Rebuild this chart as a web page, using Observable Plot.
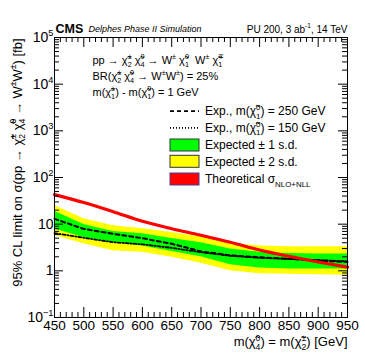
<!DOCTYPE html>
<html><head><meta charset="utf-8">
<script src="https://cdn.jsdelivr.net/npm/d3@7"></script>
<script src="https://cdn.jsdelivr.net/npm/@observablehq/plot@0.6"></script>
<style>body{margin:0;background:#fff;} svg{display:block;}</style>
</head><body><div id="chart"></div>
<script>
// ---- data ----
const masses      = [450, 500, 550, 600, 650, 700, 750, 800, 850, 900, 950];
const exp250      = [13, 7.9, 6.2, 5.0, 3.8, 2.6, 2.15, 1.95, 1.8, 1.66, 1.55];
const exp150      = [6.4, 5.1, 4.1, 3.7, 3.1, 2.5, 2.1, 1.9, 1.8, 1.7, 1.6];
const band1Up     = [19, 9.8, 7.0, 6.2, 4.9, 4.0, 2.95, 2.5, 2.35, 2.3, 2.3];
const band1Down   = [7.9, 5.2, 4.1, 3.4, 2.6, 2.0, 1.35, 1.15, 1.1, 1.1, 1.1];
const band2Up     = [25, 13, 9.3, 8.0, 6.6, 5.3, 3.9, 3.4, 3.3, 3.3, 3.3];
const band2Down   = [5.7, 3.8, 2.7, 2.5, 1.95, 1.45, 1.0, 0.87, 0.85, 0.82, 0.8];
const xsecTheory  = [43, 29, 18.5, 11.5, 8.0, 5.8, 4.1, 2.8, 2.05, 1.55, 1.2];
const xTicks      = [450, 500, 550, 600, 650, 700, 750, 800, 850, 900, 950];
const yTicks      = [0.1, 1, 10, 100, 1000, 10000, 100000];
const yTickLabels = ["10^{−1}", "1", "10", "10^{2}", "10^{3}", "10^{4}", "10^{5}"];

const rows = masses.map((m, i) => ({
  m, e250: exp250[i], e150: exp150[i], b1u: band1Up[i], b1d: band1Down[i],
  b2u: band2Up[i], b2d: band2Down[i], th: xsecTheory[i]
}));

const W = 365, H = 354, mL = 54, mR = 18, mT = 37, mB = 37;
const FW = W - mL - mR, FH = H - mT - mB;
const FONT = "Liberation Sans, Arial, Helvetica, sans-serif";
const DASH150 = "3,2,1,2";

const xMinor = d3.range(450, 951, 10).filter(v => v % 50 !== 0);
const yMinor = [];
for (let e = -1; e < 5; e++) for (let k = 2; k <= 9; k++) yMinor.push(k * Math.pow(10, e));

const tickMarks = (vals, len, axis) => axis === "x"
  ? [Plot.ruleX(vals, {x: d => d, insetTop: FH - len, stroke: "black"}),
     Plot.ruleX(vals, {x: d => d, insetBottom: FH - len, stroke: "black"})]
  : [Plot.ruleY(vals, {y: d => d, insetRight: FW - len, stroke: "black"}),
     Plot.ruleY(vals, {y: d => d, insetLeft: FW - len, stroke: "black"})];

const svg = Plot.plot({
  width: W, height: H,
  marginLeft: mL, marginRight: mR, marginTop: mT, marginBottom: mB,
  style: {fontFamily: FONT, background: "white", overflow: "visible"},
  x: {domain: [450, 950]},
  y: {type: "log", domain: [0.1, 1e5]},
  marks: [
    Plot.areaY(rows, {x: "m", y1: "b2d", y2: "b2u", fill: "#ffff00"}),
    Plot.areaY(rows, {x: "m", y1: "b1d", y2: "b1u", fill: "#00ff00"}),
    Plot.line(rows, {x: "m", y: "e250", stroke: "black", strokeWidth: 2, strokeDasharray: "4,3"}),
    Plot.line(rows, {x: "m", y: "e150", stroke: "black", strokeWidth: 1.8, strokeDasharray: DASH150}),
    Plot.line(rows, {x: "m", y: "th", stroke: "#ff0000", strokeWidth: 3.2, curve: "monotone-x"}),
    ...tickMarks(xTicks, 10, "x"),
    ...tickMarks(xMinor, 5, "x"),
    ...tickMarks(yTicks, 9, "y"),
    ...tickMarks(yMinor, 5, "y"),
    Plot.frame({stroke: "black"}),
    Plot.axisX({ticks: xTicks, tickSize: 0, tickPadding: 3, fontSize: 13.5, tickFormat: d => String(d), label: null}),
    Plot.axisY({ticks: yTicks, tickSize: 0, tickPadding: 1, fontSize: 14,
                tickFormat: d => yTickLabels[yTicks.indexOf(d)], label: null}),
    // header
    Plot.text(["CMS"], {frameAnchor: "top-left", dx: 1, dy: -9, fontSize: 12.5, fontWeight: "bold", textAnchor: "start", lineAnchor: "middle"}),
    Plot.text(["Delphes Phase II Simulation"], {frameAnchor: "top-left", dx: 34, dy: -8, fontSize: 9, fontStyle: "italic", textAnchor: "start", lineAnchor: "middle"}),
    Plot.text(["PU 200, 3 ab^{-1}, 14 TeV"], {frameAnchor: "top-right", dx: 0, dy: -8.2, fontSize: 10, textAnchor: "end", lineAnchor: "middle"}),
    // process annotation
    Plot.text(["pp → χ̃^{±}_{2} χ̃^{0}_{4} → W^{±} χ̃^{0}_{1}  W^{±} χ̃^{∓}_{1}"], {frameAnchor: "top-left", dx: 38, dy: 22.8, fontSize: 11, textAnchor: "start", lineAnchor: "middle"}),
    Plot.text(["BR(χ̃^{±}_{2} χ̃^{0}_{4} → W^{±}W^{±}) = 25%"], {frameAnchor: "top-left", dx: 38, dy: 38.5, fontSize: 11, textAnchor: "start", lineAnchor: "middle"}),
    Plot.text(["m(χ̃^{±}_{1}) - m(χ̃^{0}_{1}) = 1 GeV"], {frameAnchor: "top-left", dx: 38, dy: 54.5, fontSize: 11, textAnchor: "start", lineAnchor: "middle"}),
    // axis titles
    Plot.text(["95% CL limit on σ(pp → χ̃^{±}_{2} χ̃^{0}_{4} → W^{±}W^{±}) [fb]"], {frameAnchor: "top-left", dx: -37, dy: 1, rotate: -90, fontSize: 13, textAnchor: "end", lineAnchor: "middle"}),
    Plot.text(["m(χ̃^{0}_{4}) = m(χ̃^{±}_{2}) [GeV]"], {frameAnchor: "bottom-right", dx: 0, dy: 24.5, fontSize: 13, textAnchor: "end", lineAnchor: "middle"})
  ]
});
svg.querySelectorAll('g[aria-label$="tick label"], g[aria-label="text"]').forEach(g => g.setAttribute("fill", "black"));
document.getElementById("chart").appendChild(svg);

// ---- legend (inside the frame, top right) ----
const sel = d3.select(svg);
const leg = sel.append("g").attr("font-family", FONT).attr("font-size", 12)
  .attr("fill", "black").attr("text-anchor", "start");
const items = [
  {label: "Exp., m(χ̃^{0}_{1}) = 250 GeV", kind: "line", dash: "4,3", yc: 111.2},
  {label: "Exp., m(χ̃^{0}_{1}) = 150 GeV", kind: "line", dash: "1,2", yc: 127.8},
  {label: "Expected ± 1 s.d.", kind: "box", fill: "#00ff00", stroke: "#333", yc: 145},
  {label: "Expected ± 2 s.d.", kind: "box", fill: "#ffff00", stroke: "#333", yc: 161.3},
  {label: "Theoretical σ_{NLO+NLL}", kind: "box", fill: "#ff0000", stroke: "#4b3a9a", yc: 179}
];
items.forEach(it => {
  if (it.kind === "line") {
    leg.append("line").attr("x1", 170).attr("x2", 199).attr("y1", it.yc).attr("y2", it.yc)
      .attr("stroke", "black").attr("stroke-width", 1.8).attr("stroke-dasharray", it.dash);
  } else {
    leg.append("rect").attr("x", 170).attr("y", it.yc - 6).attr("width", 29).attr("height", 12)
      .attr("fill", it.fill).attr("stroke", it.stroke).attr("stroke-width", 1);
  }
  leg.append("text").attr("x", 205).attr("y", it.yc).attr("dy", "0.35em").text(it.label);
});

// ---- rich text: ^{sup} _{sub} (stacked when adjacent) ----
function richify(el) {
  const s = el.textContent;
  if (!/[\^_]\{/.test(s)) return;
  const segs = []; let buf = "", i = 0;
  while (i < s.length) {
    if ((s[i] === "^" || s[i] === "_") && s[i + 1] === "{") {
      if (buf) { segs.push({t: "n", s: buf}); buf = ""; }
      const j = s.indexOf("}", i);
      segs.push({t: s[i] === "^" ? "sup" : "sub", s: s.slice(i + 2, j)});
      i = j + 1;
    } else { buf += s[i]; i++; }
  }
  if (buf) segs.push({t: "n", s: buf});
  const fs = parseFloat(getComputedStyle(el).fontSize) || 12;
  el.textContent = "";
  let cur = 0, pending = 0, prev = null, prevNode = null;
  segs.forEach(seg => {
    const ts = document.createElementNS("http://www.w3.org/2000/svg", "tspan");
    ts.textContent = seg.s;
    const target = seg.t === "sup" ? -0.42 * fs : seg.t === "sub" ? 0.28 * fs : 0;
    if (target - cur !== 0) ts.setAttribute("dy", target - cur);
    cur = target;
    if (seg.t !== "n") ts.style.fontSize = (0.66 * fs) + "px";
    el.appendChild(ts);
    if (seg.t === "sub" && prev && prev.t === "sup") {
      const w = prevNode.getComputedTextLength();
      ts.setAttribute("dx", -w);
      const sw = ts.getComputedTextLength();
      pending = Math.max(0, w - sw);
    } else if (pending) {
      ts.setAttribute("dx", pending); pending = 0;
    }
    prev = seg; prevNode = ts;
  });
}
svg.querySelectorAll("text").forEach(richify);
</script>
</body></html>
